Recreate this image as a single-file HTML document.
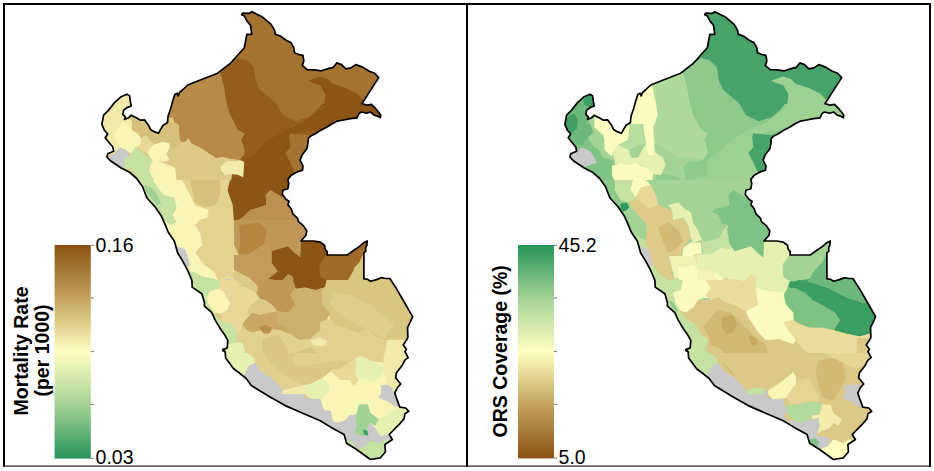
<!DOCTYPE html>
<html><head><meta charset="utf-8"><title>Peru maps</title>
<style>
html,body{margin:0;padding:0;background:#fff;}
body{width:934px;height:471px;overflow:hidden;position:relative;font-family:"Liberation Sans",sans-serif;}
svg{position:absolute;left:0;top:0;display:block;}
text{font-family:"Liberation Sans",sans-serif;fill:#000;}
.lab{font-size:19.5px;}
.ttl{font-size:19.5px;font-weight:bold;text-anchor:middle;}
</style></head><body>
<svg width="934" height="471" viewBox="0 0 934 471">
<defs>
<clipPath id="peru"><polygon points="241.7,14.7 242.6,13.1 249.3,13.4 251.8,11.7 256.8,14.2 261.9,16.7 266.1,20.1 271.1,24.3 274.5,30.2 275.3,34.4 280.3,36 286.2,40.2 291.2,42.8 293.8,47.8 294.6,52.8 298.8,54.5 303,55.3 303.8,61.2 302.3,65.4 307.2,69.6 313.9,69.8 321.4,70.8 329,68.4 333.2,67.4 336.7,62.9 341.6,64.6 345.8,68.8 350.8,67.9 355.8,64.6 362.6,67.1 369.3,71.3 374.3,73 378.7,77.6 362,103.6 367.3,105.2 371.5,104.4 374.9,107.8 379.1,112.8 380.7,115.3 380.4,117.8 377.4,116.1 374,115 370.7,112 366.5,113.3 361.4,112 358.9,113.6 357.2,117.8 350.5,118.7 343.8,120 337.1,121.2 332.1,123.7 327,127 320.3,130.4 315.3,133.8 310.3,136.3 308.3,138.8 307.8,143.8 307,148.5 302.1,155.1 300.1,160.1 303,166 302.5,170.2 297.1,171.9 291.2,175.2 287.9,179.4 288.7,183.6 287.9,188.7 282.9,190.3 282.3,194.5 286.2,199.6 289.1,201.2 287.9,204.6 291.2,208.8 292.9,213.8 297.6,218.4 298.5,221.7 303.5,225.9 306.8,231 306,235.2 301,241 313.6,241 320.3,242.2 324.5,245.2 325.3,249.4 327.3,251.9 327,255 347.1,255 350.5,252.8 353.8,250.3 358.9,246.9 363.9,242.7 367.2,241 366.9,245.2 365.6,247.8 365.9,251.1 363.9,252.8 363.9,278.8 367.2,279.1 370.6,281.3 376.5,279.6 381.5,277.6 385.7,278.5 389.9,278.5 396.6,288.9 403,300 412.6,316.7 410,322.5 407.5,327.6 407.9,337.3 406.5,340 403.2,345 406.5,349.2 404.9,351.7 408.2,357.6 404.9,360.1 402.3,365.2 396.5,372.7 395.6,377.8 400.7,384 397.3,387.8 394.8,392.9 397.3,400.4 399.8,407.1 405.7,408 408.7,411.3 404.9,413.8 404,418.9 399.2,424.4 389.2,434.5 392.4,439.5 384.9,444.5 385.4,452 380.4,457.8 370.4,459.5 356.6,449.5 346.6,443.2 344.1,434.5 330.3,426.9 320.3,420.7 302.7,413.2 285.2,405.6 270.1,396.9 251.3,385.6 246.2,378.5 240.3,373.8 233.6,368.8 229.4,362.9 225.6,357.9 225.2,352 222.7,350 227.2,347.8 227.8,340.3 224.4,334.4 220.2,328.5 215.2,320.1 211.8,312.6 204.3,305.9 204.5,303 201.9,293.8 192.2,287.1 191.9,280.4 187.7,270.3 182.7,261.1 177.6,252.7 174.3,240.9 168.4,232.6 165.2,224.6 161,215.4 155.2,207 146.8,197.8 142.6,186.8 136.7,178.5 130,172.6 121.2,168 111.1,161.3 106.9,157.1 107.7,153.8 113.6,151.2 112.8,147 108.6,142 105.2,137.8 107.7,134 104.4,130.3 101.9,124.4 103.6,115.2 108.6,110.1 114.5,102.6 121.2,96.7 127,94.2 129.6,95.9 130.4,101.7 131.2,105.9 127,107.6 123.7,110.1 122.8,114.3 125.4,116.8 124.5,119.4 128.7,117.7 131.2,115.2 136.3,117.7 140.5,120.2 144.7,119.9 148,124.4 150.5,129.4 154.7,131.9 158.4,133.3 160.6,129.4 163.1,125.2 167.3,122.7 168.1,116 170.7,108.5 172.3,102.6 174.9,94.2 177.4,93.4 178.2,95.9 179.6,92.5 182.4,90 187.7,85 200.3,80 217.6,73.2 230,63.7 244.3,47.8 246.8,34.4 251.8,34.4 250.5,25.1 246.8,20.9 244.3,15.9"/></clipPath>
<linearGradient id="gL" x1="0" y1="0" x2="0" y2="1">
<stop offset="0" stop-color="#8a5212"/><stop offset="0.25" stop-color="#c3a35e"/><stop offset="0.5" stop-color="#ffffc0"/><stop offset="0.5" stop-color="#ffffc0"/><stop offset="0.75" stop-color="#a4d295"/><stop offset="1" stop-color="#26935a"/>
</linearGradient>
<linearGradient id="gR" x1="0" y1="1" x2="0" y2="0">
<stop offset="0" stop-color="#8a5212"/><stop offset="0.25" stop-color="#c3a35e"/><stop offset="0.5" stop-color="#ffffc0"/><stop offset="0.75" stop-color="#a4d295"/><stop offset="1" stop-color="#26935a"/>
</linearGradient>
</defs>
<rect x="0" y="0" width="934" height="471" fill="#fff"/>
<!-- frame -->
<rect x="3" y="3" width="928" height="2" fill="#000"/>
<rect x="3" y="3" width="2" height="464" fill="#000"/>
<rect x="466" y="3" width="2" height="464" fill="#000"/>
<rect x="929" y="3" width="2" height="464" fill="#000"/>
<rect x="3" y="465.5" width="928" height="1.2" fill="#222"/>

<!-- LEFT MAP -->
<g clip-path="url(#peru)">
<polygon fill="#ddca88" points="90,0 430,0 430,471 90,471"/>
<polygon fill="#a57331" points="200,0 430,0 430,140 330,140 300,128 283,119 275,106 258,93 250,80 215,76 200,82"/>
<polygon fill="#945d1c" points="222,78 250,80 258,93 275,106 283,119 295,125 295,200 222,200"/>
<polygon fill="#b78a4a" points="160.0,75.2 220.1,72.7 223.9,85.2 226.4,100.2 230.1,117.8 160.0,117.8"/>
<polygon fill="#945d1c" points="220.1,72.7 237.7,58.1 246.4,60.1 254.0,67.6 255.2,75.2 256.5,87.7 265.2,95.2 275.2,105.2 280.3,117.8 230.1,117.8 226.4,100.2 223.9,85.2"/>
<polygon fill="#8d5515" points="307.8,80.7 320.3,76.4 327.9,78.9 332.9,83.9 345.4,87.7 357.9,94.0 364.2,101.5 370.4,104.0 380.5,117.8 315.3,117.8 320.3,110.2 324.1,105.2 325.4,94.0 320.3,85.2 312.8,82.7"/>
<polygon fill="#8d5515" points="322,104 365,99 385,120 340,126 318,142 298,129 310,119"/>
<polygon fill="#945d1c" points="224.0,80.0 255.4,80.0 260.4,90.0 275.4,102.5 282.9,115.1 295.4,121.3 308.0,117.6 324.0,105.1 324.0,198.0 229.0,197.8 227.8,190.2 231.6,185.2 232.8,177.7 244.1,176.5 244.1,160.2 240.3,155.2 244.1,153.9 241.6,145.1 245.3,133.9 237.8,127.6 230.3,112.6 226.5,95.0"/>
<polygon fill="#8d5515" points="324.0,107.6 324.0,130.1 305.5,131.4 289.2,136.4 290.4,147.6 285.4,152.7 290.4,162.7 295.4,174.0 287.9,182.7 287.9,190.2 282.9,195.2 282.9,198.0 230.3,198.0 227.8,190.2 231.6,185.2 232.8,177.7 244.1,176.5 244.1,160.2 252.8,155.2 265.4,142.6 285.4,130.1 303.0,122.6"/>
<polygon fill="#a57331" points="289.2,136.4 290.4,133.6 308.5,134.9 324.0,135.6 324.0,180.2 295.4,174.0 290.4,162.7 285.4,152.7 290.4,147.6"/>
<polygon fill="#b78a4a" points="270.4,190.2 282.9,187.7 284.2,198.0 269.1,198.0"/>
<polygon fill="#b78a4a" points="169.5,123.4 167.8,115.1 170.3,106.7 174.5,93.3 179.5,90.0 222.9,90.0 225.4,100.0 229.6,113.4 234.6,123.4 238.0,130.1 244.7,133.4 241.3,140.1 243.8,146.8 244.7,153.5 239.6,160.1 229.6,158.5 222.9,156.8 216.3,158.5 212.9,156.0 206.2,151.8 199.6,147.6 191.2,143.4 188.7,138.4 184.5,142.6 181.2,141.8 179.5,140.1 178.7,125.1 174.5,122.6 162.8,90.0 146.1,90.0 146.1,123.4"/>
<polygon fill="#ddca88" points="181.2,141.8 184.5,142.6 188.7,138.4 191.2,143.4 199.6,147.6 206.2,151.8 212.9,156.0 216.3,158.5 222.9,156.8 229.6,158.5 239.6,160.1 233.0,161.8 231.3,168.5 166.1,168.5 169.5,160.1 166.1,153.5 169.5,148.5 172.8,149.3 176.2,146.8"/>
<polygon fill="#f2eaa9" points="96.0,90.0 127.7,90.0 136.1,105.9 123.6,108.4 122.7,115.1 126.1,119.2 129.4,116.7 131.9,121.7 131.9,130.1 137.8,133.4 141.1,138.4 140.3,145.1 135.3,148.5 131.9,153.5 121.1,148.5 114.4,153.5 96.0,156.8"/>
<polygon fill="#f9f5b5" points="123.6,121.7 131.9,130.1 140.3,135.1 141.1,141.8 135.3,148.5 131.9,153.5 121.1,148.5 116.0,140.1 114.4,133.4"/>
<polygon fill="#d7bf7c" points="129.4,116.7 139.4,115.1 151.1,120.1 162.0,131.8 162.0,125.1 166.1,123.4 169.5,123.4 174.5,122.6 178.7,125.1 179.5,140.1 181.2,141.8 176.2,146.8 172.8,149.3 169.5,143.4 162.8,141.8 154.5,144.3 149.4,140.1 146.1,135.1 141.1,138.4 137.8,133.4 131.9,130.1 131.9,121.7"/>
<polygon fill="#e8d998" points="141.1,138.4 146.1,135.1 149.4,140.1 154.5,144.3 149.4,148.5 147.8,153.5 142.8,151.8 137.8,146.8 140.3,145.1"/>
<polygon fill="#f9f5b5" points="154.5,144.3 162.8,141.8 169.5,143.4 169.5,148.5 166.1,153.5 169.5,160.1 162.8,161.8 152.8,161.0 147.8,153.5 149.4,148.5"/>
<polygon fill="#c9c9c9" points="106.0,158.5 113.5,154.3 119.4,147.6 125.2,149.3 129.4,153.5 128.6,156.8 125.2,157.6 124.4,163.5 123.6,168.7 112.7,168.7"/>
<polygon fill="#c6e2a3" points="125.2,157.6 128.6,156.8 131.9,153.5 135.3,146.8 137.8,151.0 142.8,153.5 149.4,156.8 152.0,160.1 147.8,163.5 144.4,168.5 124.4,168.5 124.4,163.5"/>
<polygon fill="#f2eaa9" points="233.0,161.8 239.6,160.1 243.8,161.8 243.8,168.5 232.1,168.5"/>
<polygon fill="#ddca88" points="218.3,172.2 232.3,173.7 230.8,182.2 219.8,180.7"/>
<polygon fill="#f2eaa9" points="220.3,166.4 226.5,161.4 240.3,160.7 244.1,162.7 243.3,177.2 237.8,174.7 230.3,174.0 225.3,175.2 221.5,171.4"/>
<polygon fill="#c6e2a3" points="131.3,152.7 137.6,147.6 143.9,155.2 152.6,160.2 148.9,170.2 153.9,180.2 157.6,187.7 155.1,198.0 148.9,198.0 143.9,190.2 138.9,181.5 130.1,166.4 131.3,157.7"/>
<polygon fill="#9fd293" points="141.4,179.0 148.9,181.5 153.9,190.2 155.6,198.0 145.1,198.0"/>
<polygon fill="#f9f5b5" points="152.6,160.2 162.7,162.7 175.2,167.7 176.4,180.2 187.7,190.2 190.2,198.0 155.1,198.0 157.6,187.7 153.9,180.2 148.9,170.2"/>
<polygon fill="#f9f5b5" points="152.6,180.0 182.6,180.0 187.6,190.0 195.2,205.1 208.9,210.1 207.7,217.6 200.2,220.1 195.2,225.1 200.2,232.6 202.7,245.1 195.2,252.7 202.7,262.7 215.2,272.7 217.7,280.2 207.7,282.7 192.7,280.2 186.4,272.7 178.9,255.2 173.9,241.4 168.9,233.9 176.4,222.6 172.6,215.1 176.4,207.6 173.9,197.5 163.8,195.0 157.6,187.5"/>
<polygon fill="#f9f5b5" points="157.6,215.1 177.6,220.1 178.9,237.6 167.6,236.4"/>
<polygon fill="#c6e2a3" points="130.0,180.0 152.6,180.0 157.6,187.5 163.8,195.0 173.9,197.5 176.4,207.6 172.6,215.1 176.4,222.6 170.1,225.1 161.3,217.6 152.6,203.8 145.1,192.5"/>
<polygon fill="#9fd293" points="143.8,185.0 151.3,187.5 157.6,195.0 161.3,203.8 157.6,205.1 151.3,198.8 146.3,191.3"/>
<polygon fill="#e3d290" points="182.6,180.0 230.2,180.0 227.7,190.0 232.7,205.1 235.2,222.6 239.0,240.1 240.3,252.7 234.0,265.2 242.8,275.2 240.3,280.2 227.7,275.2 217.7,280.2 215.2,272.7 202.7,262.7 195.2,252.7 202.7,245.1 200.2,232.6 195.2,225.1 200.2,220.1 207.7,217.6 208.9,210.1 195.2,205.1 187.6,190.0"/>
<polygon fill="#d7bf7c" points="190.1,180.0 220.2,180.0 220.2,195.0 215.2,205.1 205.2,207.6 195.2,202.5"/>
<polygon fill="#8d5515" points="227.7,190.0 230.2,180.0 286.6,180.0 287.9,188.8 282.3,191.3 282.8,197.5 270.3,190.0 265.3,195.0 266.6,205.1 259.0,207.6 250.3,210.1 242.8,217.6 234.0,222.6 232.7,205.1"/>
<polygon fill="#bb9050" points="234.0,222.6 242.8,217.6 250.3,210.1 259.0,207.6 266.6,205.1 265.3,195.0 270.3,190.0 282.8,197.5 295.4,202.5 310.4,215.1 310.4,233.9 300.9,240.6 301.6,252.7 295.4,250.1 290.4,246.4 280.3,248.9 272.8,252.7 270.3,247.6 265.3,242.6 256.5,250.1 245.3,255.2 240.3,252.7 239.0,240.1 235.2,222.6"/>
<polygon fill="#b2823d" points="240.3,237.6 252.8,232.6 259.0,223.8 267.8,222.6 265.3,242.6 256.5,250.1 245.3,255.2 240.3,252.7"/>
<polygon fill="#c49e5c" points="240.3,252.7 245.3,255.2 256.5,250.1 265.3,242.6 270.3,247.6 272.8,252.7 271.6,262.7 276.6,270.2 267.8,275.2 256.5,272.7 250.3,277.7 242.8,275.2 234.0,265.2"/>
<polygon fill="#8d5515" points="272.8,252.7 280.3,248.9 290.4,246.4 295.4,250.1 301.6,252.7 300.9,238.9 320.4,238.9 325.9,246.4 327.9,254.7 320.4,262.7 319.2,272.7 325.4,280.2 320.4,287.7 312.9,290.2 305.4,285.2 295.4,287.7 292.9,277.7 285.4,275.2 282.8,282.7 275.3,280.2 267.8,275.2 276.6,270.2 271.6,262.7"/>
<polygon fill="#a06a28" points="327.9,252.7 346.7,252.7 354.0,247.6 354.0,280.2 345.5,280.2 335.5,280.2 325.4,280.2 319.2,272.7 320.4,262.7"/>
<polygon fill="#d9c681" points="325.4,280.2 335.5,280.2 354.0,280.2 354.0,298.0 320.4,298.0 320.4,287.7"/>
<polygon fill="#c49e5c" points="267.8,275.2 275.3,280.2 282.8,282.7 285.4,275.2 292.9,277.7 295.4,287.7 305.4,285.2 312.9,290.2 320.4,287.7 320.4,298.0 257.8,298.0 256.5,285.2 260.3,280.2"/>
<polygon fill="#e8d998" points="217.7,280.2 227.7,275.2 240.3,280.2 242.8,275.2 250.3,277.7 256.5,272.7 267.8,275.2 260.3,280.2 256.5,285.2 257.8,298.0 203.9,298.0 200.2,291.5 207.7,282.7"/>
<polygon fill="#c9c9c9" points="176.4,246.4 185.1,248.9 188.9,260.2 190.1,266.4 186.4,266.4 180.1,257.7"/>
<polygon fill="#c9c9c9" points="225.2,279.0 230.2,279.0 230.2,282.7 225.2,282.7"/>
<polygon fill="#c6e2a3" points="185.1,268.9 195.2,272.7 202.7,276.5 215.2,279.0 219.0,285.2 212.7,290.2 205.2,292.7 200.2,298.0 190.1,298.0"/>
<polygon fill="#d9c681" points="326.7,280.1 348.0,280.1 363.8,252.6 363.8,278.9 370.5,276.4 381.8,275.6 394.3,276.4 414.4,316.5 409.4,325.2 409.4,337.8 334.2,337.8 329.2,320.2 321.7,302.7 320.4,292.7 326.7,285.1"/>
<polygon fill="#a06a28" points="319.2,265.1 326.7,252.6 348.0,252.6 356.8,247.6 369.3,238.8 369.3,250.1 363.8,252.6 359.3,262.6 351.8,270.1 346.7,278.9 339.2,280.1 326.7,280.1 320.4,277.6"/>
<polygon fill="#8d5515" points="271.6,251.3 279.1,248.8 287.9,246.3 294.1,252.6 300.4,257.6 299.6,240.0 320.4,240.5 325.4,248.8 326.7,255.1 319.2,265.1 320.4,277.6 326.7,280.1 324.2,287.6 314.2,290.1 306.7,286.4 295.4,288.9 292.9,276.4 287.9,273.9 281.6,281.4 275.3,280.1 267.8,278.9 277.8,271.4 271.6,262.6"/>
<polygon fill="#bf9757" points="234.0,220.0 297.9,220.0 309.2,230.0 301.1,241.3 300.4,257.6 294.1,252.6 287.9,246.3 279.1,248.8 271.6,251.3 266.6,243.8 259.1,247.6 249.0,253.8 239.0,255.1 234.0,245.1"/>
<polygon fill="#b5853f" points="239.0,225.0 259.1,222.5 266.6,230.0 264.1,243.8 259.1,247.6 249.0,253.8 239.0,255.1 240.3,240.0"/>
<polygon fill="#c29b5a" points="234.0,255.1 239.0,255.1 249.0,253.8 259.1,247.6 266.6,243.8 271.6,251.3 271.6,262.6 277.8,271.4 267.8,278.9 257.8,286.4 249.0,277.6 241.5,273.9 234.0,270.1"/>
<polygon fill="#ddca88" points="234.0,270.1 241.5,273.9 249.0,277.6 257.8,286.4 259.1,292.7 266.6,295.2 271.6,303.9 277.8,310.2 287.9,314.0 299.1,327.7 309.2,330.2 316.7,335.2 316.7,337.8 234.0,337.8"/>
<polygon fill="#f2eaa9" points="234.0,285.1 246.5,287.6 256.5,295.2 254.0,302.7 244.0,305.2 234.0,305.2"/>
<polygon fill="#e8d998" points="234.0,305.2 244.0,305.2 249.0,315.2 241.5,325.2 234.0,327.7"/>
<polygon fill="#cbaa68" points="246.5,320.2 259.1,315.2 271.6,320.2 279.1,330.2 269.1,335.2 256.5,330.2 249.0,327.7"/>
<polygon fill="#bd9654" points="257.8,286.4 267.8,278.9 275.3,280.1 281.6,281.4 287.9,273.9 292.9,276.4 295.4,288.9 291.6,295.2 295.4,306.4 287.9,314.0 277.8,310.2 271.6,303.9 266.6,295.2 259.1,292.7"/>
<polygon fill="#cbaa68" points="295.4,288.9 306.7,286.4 314.2,290.1 324.2,287.6 320.4,292.7 321.7,302.7 329.2,312.7 326.7,320.2 319.2,325.2 324.2,331.5 316.7,335.2 309.2,330.2 299.1,327.7 287.9,314.0 295.4,306.4 291.6,295.2"/>
<polygon fill="#f2eaa9" points="321.7,320.2 329.2,315.2 334.2,337.8 316.7,337.8 324.2,331.5 319.2,325.2"/>
<polygon fill="#e8d998" points="220.1,280.0 235.2,280.0 242.7,287.5 250.2,288.8 256.5,293.8 260.2,298.8 252.7,302.5 246.4,312.6 242.7,320.1 241.4,330.1 237.7,333.9 232.7,325.1 221.4,321.3 221.4,313.8 227.6,310.1 230.1,302.5 223.9,292.5 218.9,288.8"/>
<polygon fill="#c6e2a3" points="185.1,280.0 220.1,280.0 218.9,288.8 210.1,291.3 206.3,297.5 208.9,305.1 213.9,312.6 221.4,321.3 232.7,325.1 237.7,333.9 236.4,342.6 228.9,343.9 226.4,338.9 220.1,327.6 212.6,315.1 205.1,305.1 201.3,293.8 192.6,287.0"/>
<polygon fill="#f9f5b5" points="210.1,291.3 218.9,288.8 223.9,292.5 230.1,302.5 227.6,310.1 221.4,313.8 213.9,312.6 208.9,305.1 206.3,297.5"/>
<polygon fill="#bf9856" points="257.7,287.5 265.2,280.0 292.8,280.0 295.3,287.5 290.3,295.0 295.3,305.1 287.8,312.6 277.8,311.3 272.7,305.1 265.2,300.0 260.2,298.8 256.5,293.8"/>
<polygon fill="#8d5515" points="270.2,280.0 326.6,280.0 325.4,286.3 315.3,290.0 305.3,287.5 296.5,288.8 292.8,280.0"/>
<polygon fill="#ceb06e" points="295.3,287.5 296.5,288.8 305.3,287.5 315.3,290.0 321.6,295.0 322.8,305.1 330.4,312.6 326.6,320.1 320.3,322.6 320.3,330.1 310.3,338.9 299.0,340.1 290.3,333.9 285.3,326.3 277.8,322.6 277.8,311.3 287.8,312.6 295.3,305.1 290.3,295.0"/>
<polygon fill="#d9c681" points="321.6,295.0 325.4,286.3 326.6,280.0 394.0,280.0 394.0,337.6 385.5,340.1 375.5,336.4 367.9,330.1 357.9,332.6 345.4,327.6 335.4,325.1 330.4,318.8 330.4,312.6 322.8,305.1"/>
<polygon fill="#e1d08e" points="237.7,333.9 241.4,330.1 246.4,330.1 252.7,332.6 260.2,330.1 267.7,333.9 272.7,328.9 280.3,330.1 290.3,333.9 299.0,340.1 310.3,338.9 320.3,330.1 320.3,322.6 326.6,320.1 330.4,318.8 335.4,325.1 345.4,327.6 357.9,332.6 367.9,330.1 375.5,336.4 385.5,340.1 394.0,337.6 394.0,362.7 380.5,362.7 367.9,357.7 357.9,352.7 347.9,357.7 342.9,367.7 332.9,370.2 325.4,372.7 315.3,377.7 300.3,380.2 290.3,385.2 282.8,387.7 272.7,380.2 260.2,370.2 255.2,362.7 252.7,355.2 245.2,352.7 242.7,342.6 236.4,342.6"/>
<polygon fill="#c9a866" points="245.2,320.1 252.7,312.6 260.2,315.1 270.2,312.6 277.8,311.3 277.8,322.6 285.3,326.3 290.3,333.9 280.3,330.1 272.7,328.9 267.7,333.9 260.2,330.1 252.7,332.6 246.4,330.1 242.7,325.1"/>
<polygon fill="#b98e4c" points="259.0,327.6 265.2,325.1 271.5,327.6 270.2,332.6 264.0,333.9"/>
<polygon fill="#d9c483" points="262.7,338.9 277.8,335.1 285.3,345.1 290.3,357.7 280.3,360.2 270.2,355.2 262.7,352.7"/>
<polygon fill="#d9c483" points="295.3,352.7 310.3,347.6 320.3,355.2 317.8,367.7 305.3,370.2 296.5,365.2"/>
<polygon fill="#f2eaa9" points="310.3,340.1 320.3,337.6 327.9,341.4 322.8,346.4 312.8,345.1"/>
<polygon fill="#e6f1b1" points="228.9,343.9 236.4,342.6 242.7,342.6 245.2,352.7 252.7,355.2 255.2,362.7 247.7,366.4 252.7,372.7 247.7,375.2 245.2,379.0 233.9,368.9 227.6,360.2 222.6,353.9 223.9,347.6"/>
<polygon fill="#f9f5b5" points="342.9,367.7 347.9,357.7 357.9,352.7 367.9,357.7 380.5,362.7 394.0,362.7 394.0,398.0 340.4,398.0 335.4,380.2 332.9,370.2"/>
<polygon fill="#e6f1b1" points="315.3,377.7 325.4,372.7 332.9,370.2 335.4,380.2 332.9,390.2 320.3,395.2 310.3,394.0 305.3,392.7 300.3,387.7 300.3,380.2"/>
<polygon fill="#f9f5b5" points="282.8,387.7 290.3,385.2 300.3,380.2 300.3,387.7 290.3,390.2"/>
<polygon fill="#c9c9c9" points="247.7,366.4 255.2,362.7 260.2,370.2 272.7,380.2 282.8,387.7 290.3,390.2 300.3,387.7 305.3,392.7 302.8,397.8 272.7,398.0 252.7,390.2 242.7,380.2 247.7,375.2 252.7,372.7"/>
<polygon fill="#c9c9c9" points="307.8,390.2 315.3,387.7 320.3,391.5 315.3,395.2"/>
<polygon fill="#c9c9c9" points="381.7,385.2 394.0,384.0 394.0,395.2 383.0,396.5"/>
<polygon fill="#e1d08e" points="247.6,353.0 395.4,353.0 385.4,363.0 375.3,361.8 356.5,358.0 355.3,368.0 345.3,369.3 330.2,371.8 322.7,378.1 312.7,383.1 302.7,385.6 292.7,388.1 282.6,390.6 276.4,383.1 270.1,373.0 260.1,363.0"/>
<polygon fill="#dcc886" points="262.6,353.0 295.2,353.0 292.7,363.0 302.7,365.5 320.2,363.0 337.8,360.5 350.3,363.0 345.3,369.3 330.2,371.8 322.7,378.1 312.7,383.1 302.7,385.6 290.1,378.1 275.1,368.0"/>
<polygon fill="#e6f1b1" points="220.0,353.0 247.6,353.0 252.6,360.5 247.6,368.0 246.3,373.0 235.0,375.5 225.0,365.5"/>
<polygon fill="#c9c9c9" points="327.7,416.9 360.3,403.1 380.3,415.6 395.4,435.7 375.3,463.2 340.3,438.2"/>
<polygon fill="#f9f5b5" points="322.7,378.1 330.2,371.8 345.3,369.3 355.3,368.0 356.5,358.0 375.3,361.8 385.4,363.0 395.4,353.0 415.4,353.0 415.4,385.6 385.4,385.6 380.3,395.6 390.4,403.1 395.4,406.9 399.9,406.9 404.1,414.4 399.1,424.4 389.1,434.4 380.3,435.7 375.3,428.2 370.3,423.1 379.1,419.4 370.3,413.1 367.8,404.4 359.0,404.4 356.5,414.4 349.0,415.6 345.3,420.6 337.8,423.1 330.2,420.6 322.7,413.1 325.2,411.9 322.7,406.9 320.2,399.3 324.0,395.6 330.2,390.6 327.7,383.1"/>
<polygon fill="#e6f1b1" points="305.2,388.1 312.7,383.1 322.7,378.1 327.7,383.1 330.2,390.6 324.0,395.6 320.2,399.3 310.2,399.3 305.2,394.3"/>
<polygon fill="#e6f1b1" points="356.5,358.0 375.3,361.8 385.4,368.0 380.3,378.1 370.3,380.6 360.3,378.1 355.3,368.0"/>
<polygon fill="#f2eaa9" points="282.6,390.6 292.7,388.1 302.7,385.6 305.2,388.1 305.2,394.3 295.2,394.3 281.4,394.3"/>
<polygon fill="#c9c9c9" points="243.8,375.5 247.6,368.0 252.6,365.5 260.1,371.8 270.1,376.8 276.4,383.1 282.6,390.6 281.4,394.3 295.2,394.3 305.2,398.1 320.2,399.3 322.7,406.9 325.2,411.9 320.2,415.6 330.2,426.9 344.0,434.4 350.3,428.2 355.3,418.1 352.8,415.6 345.3,420.6 337.8,423.1 330.2,420.6 320.2,420.6 302.7,418.1 285.1,410.6 270.1,401.9 251.3,390.6 243.8,380.6"/>
<polygon fill="#9fd293" points="359.0,404.4 367.8,404.4 370.3,413.1 379.1,419.4 375.3,425.7 370.3,423.1 366.6,428.2 369.1,435.7 360.3,435.7 354.0,433.2 356.5,425.7 355.3,418.1 356.5,414.4"/>
<polygon fill="#3fa265" points="362.8,429.4 367.3,430.7 368.3,435.7 364.1,434.4"/>
<polygon fill="#c9c9c9" points="380.3,385.6 395.4,384.3 400.4,393.1 405.4,406.9 395.4,406.9 390.4,403.1 385.4,400.6 379.1,398.1 382.8,393.1"/>
<polygon fill="#c9c9c9" points="330.2,420.6 337.8,423.1 345.3,420.6 349.0,415.6 356.5,414.4 355.3,418.1 356.5,425.7 354.0,433.2 360.3,435.7 369.1,435.7 375.3,428.2 380.3,435.7 385.4,439.4 380.3,443.2 370.3,440.7 365.3,445.7 356.5,449.5 346.5,443.2 340.3,435.7"/>
<polygon fill="#c6e2a3" points="346.5,439.4 352.8,441.9 356.5,449.5 365.3,445.7 370.3,440.7 380.3,443.2 385.4,439.4 395.4,439.4 395.4,463.2 340.3,463.2 340.3,440.7"/>
<polygon fill="#e6f1b1" points="379.1,419.4 385.4,415.6 392.9,410.6 399.9,406.9 410.4,406.9 410.4,428.2 399.1,428.2 389.1,434.4 380.3,435.7 375.3,428.2 375.3,425.7"/>
<polygon fill="#f2eaa9" points="386.0,348.4 386.9,340.0 416.9,340.0 416.9,406.8 400.2,406.8 393.5,391.8 386.9,383.4 383.5,368.4 383.5,356.7"/>
<polygon fill="#c9c9c9" points="381.0,388.4 385.2,384.3 391.0,386.8 393.5,391.8 396.0,400.1 400.2,406.8 393.5,406.0 390.2,400.1 383.5,400.1 378.5,396.8 381.0,393.4"/>
<polygon fill="#e6f1b1" points="355.1,358.4 361.8,355.9 370.1,360.0 378.5,365.1 382.7,368.4 380.2,376.7 373.5,381.8 366.8,377.6 358.5,380.1 355.1,373.4 356.0,365.1"/>
<polygon fill="#e8d998" points="333.4,373.4 330.1,370.1 340.1,368.4 355.1,358.4 356.0,365.1 355.1,373.4 358.5,380.1 353.4,386.8 350.1,380.1 340.1,380.1"/>
<polygon fill="#dfce8b" points="334.2,292.7 351.8,295.2 374.3,307.7 394.3,325.2 384.3,338.0 364.3,327.7 344.2,317.7 329.2,305.2"/>
<polygon fill="#c9c9c9" points="317,409 331,411 333,423 319,421"/>
</g>
<polygon points="241.7,14.7 242.6,13.1 249.3,13.4 251.8,11.7 256.8,14.2 261.9,16.7 266.1,20.1 271.1,24.3 274.5,30.2 275.3,34.4 280.3,36 286.2,40.2 291.2,42.8 293.8,47.8 294.6,52.8 298.8,54.5 303,55.3 303.8,61.2 302.3,65.4 307.2,69.6 313.9,69.8 321.4,70.8 329,68.4 333.2,67.4 336.7,62.9 341.6,64.6 345.8,68.8 350.8,67.9 355.8,64.6 362.6,67.1 369.3,71.3 374.3,73 378.7,77.6 362,103.6 367.3,105.2 371.5,104.4 374.9,107.8 379.1,112.8 380.7,115.3 380.4,117.8 377.4,116.1 374,115 370.7,112 366.5,113.3 361.4,112 358.9,113.6 357.2,117.8 350.5,118.7 343.8,120 337.1,121.2 332.1,123.7 327,127 320.3,130.4 315.3,133.8 310.3,136.3 308.3,138.8 307.8,143.8 307,148.5 302.1,155.1 300.1,160.1 303,166 302.5,170.2 297.1,171.9 291.2,175.2 287.9,179.4 288.7,183.6 287.9,188.7 282.9,190.3 282.3,194.5 286.2,199.6 289.1,201.2 287.9,204.6 291.2,208.8 292.9,213.8 297.6,218.4 298.5,221.7 303.5,225.9 306.8,231 306,235.2 301,241 313.6,241 320.3,242.2 324.5,245.2 325.3,249.4 327.3,251.9 327,255 347.1,255 350.5,252.8 353.8,250.3 358.9,246.9 363.9,242.7 367.2,241 366.9,245.2 365.6,247.8 365.9,251.1 363.9,252.8 363.9,278.8 367.2,279.1 370.6,281.3 376.5,279.6 381.5,277.6 385.7,278.5 389.9,278.5 396.6,288.9 403,300 412.6,316.7 410,322.5 407.5,327.6 407.9,337.3 406.5,340 403.2,345 406.5,349.2 404.9,351.7 408.2,357.6 404.9,360.1 402.3,365.2 396.5,372.7 395.6,377.8 400.7,384 397.3,387.8 394.8,392.9 397.3,400.4 399.8,407.1 405.7,408 408.7,411.3 404.9,413.8 404,418.9 399.2,424.4 389.2,434.5 392.4,439.5 384.9,444.5 385.4,452 380.4,457.8 370.4,459.5 356.6,449.5 346.6,443.2 344.1,434.5 330.3,426.9 320.3,420.7 302.7,413.2 285.2,405.6 270.1,396.9 251.3,385.6 246.2,378.5 240.3,373.8 233.6,368.8 229.4,362.9 225.6,357.9 225.2,352 222.7,350 227.2,347.8 227.8,340.3 224.4,334.4 220.2,328.5 215.2,320.1 211.8,312.6 204.3,305.9 204.5,303 201.9,293.8 192.2,287.1 191.9,280.4 187.7,270.3 182.7,261.1 177.6,252.7 174.3,240.9 168.4,232.6 165.2,224.6 161,215.4 155.2,207 146.8,197.8 142.6,186.8 136.7,178.5 130,172.6 121.2,168 111.1,161.3 106.9,157.1 107.7,153.8 113.6,151.2 112.8,147 108.6,142 105.2,137.8 107.7,134 104.4,130.3 101.9,124.4 103.6,115.2 108.6,110.1 114.5,102.6 121.2,96.7 127,94.2 129.6,95.9 130.4,101.7 131.2,105.9 127,107.6 123.7,110.1 122.8,114.3 125.4,116.8 124.5,119.4 128.7,117.7 131.2,115.2 136.3,117.7 140.5,120.2 144.7,119.9 148,124.4 150.5,129.4 154.7,131.9 158.4,133.3 160.6,129.4 163.1,125.2 167.3,122.7 168.1,116 170.7,108.5 172.3,102.6 174.9,94.2 177.4,93.4 178.2,95.9 179.6,92.5 182.4,90 187.7,85 200.3,80 217.6,73.2 230,63.7 244.3,47.8 246.8,34.4 251.8,34.4 250.5,25.1 246.8,20.9 244.3,15.9" fill="none" stroke="#000" stroke-width="1.7" stroke-linejoin="round"/><circle cx="223.6" cy="350" r="1.7" fill="#000"/>

<!-- RIGHT MAP -->
<g transform="translate(463,0)">
<g clip-path="url(#peru)">
<polygon fill="#a3d496" points="90,0 430,0 430,471 90,471"/>
<polygon fill="#48a36b" points="200,0 430,0 430,140 330,140 300,128 283,119 275,106 258,93 250,80 215,76 200,82"/>
<polygon fill="#dcc988" points="150,300 430,300 430,471 150,471"/>
<polygon fill="#8fca8c" points="222,78 250,80 258,93 275,106 283,119 295,125 295,200 222,200"/>
<polygon fill="#afda9c" points="160.0,75.2 220.1,72.7 223.9,85.2 226.4,100.2 230.1,117.8 160.0,117.8"/>
<polygon fill="#8fca8c" points="220.1,72.7 237.7,58.1 246.4,60.1 254.0,67.6 255.2,75.2 256.5,87.7 265.2,95.2 275.2,105.2 280.3,117.8 230.1,117.8 226.4,100.2 223.9,85.2"/>
<polygon fill="#9dd192" points="307.8,80.7 320.3,76.4 327.9,78.9 332.9,83.9 345.4,87.7 357.9,94.0 364.2,101.5 370.4,104.0 380.5,117.8 315.3,117.8 320.3,110.2 324.1,105.2 325.4,94.0 320.3,85.2 312.8,82.7"/>
<polygon fill="#9dd192" points="322,104 365,99 385,120 340,126 318,142 298,129 310,119"/>
<polygon fill="#8fca8c" points="224.0,80.0 255.4,80.0 260.4,90.0 275.4,102.5 282.9,115.1 295.4,121.3 308.0,117.6 324.0,105.1 324.0,198.0 229.0,197.8 227.8,190.2 231.6,185.2 232.8,177.7 244.1,176.5 244.1,160.2 240.3,155.2 244.1,153.9 241.6,145.1 245.3,133.9 237.8,127.6 230.3,112.6 226.5,95.0"/>
<polygon fill="#9dd192" points="324.0,107.6 324.0,130.1 305.5,131.4 289.2,136.4 290.4,147.6 285.4,152.7 290.4,162.7 295.4,174.0 287.9,182.7 287.9,190.2 282.9,195.2 282.9,198.0 230.3,198.0 227.8,190.2 231.6,185.2 232.8,177.7 244.1,176.5 244.1,160.2 252.8,155.2 265.4,142.6 285.4,130.1 303.0,122.6"/>
<polygon fill="#48a36b" points="289.2,136.4 290.4,133.6 308.5,134.9 324.0,135.6 324.0,180.2 295.4,174.0 290.4,162.7 285.4,152.7 290.4,147.6"/>
<polygon fill="#8fca8c" points="270.4,190.2 282.9,187.7 284.2,198.0 269.1,198.0"/>
<polygon fill="#afda9c" points="169.5,123.4 167.8,115.1 170.3,106.7 174.5,93.3 179.5,90.0 222.9,90.0 225.4,100.0 229.6,113.4 234.6,123.4 238.0,130.1 244.7,133.4 241.3,140.1 243.8,146.8 244.7,153.5 239.6,160.1 229.6,158.5 222.9,156.8 216.3,158.5 212.9,156.0 206.2,151.8 199.6,147.6 191.2,143.4 188.7,138.4 184.5,142.6 181.2,141.8 179.5,140.1 178.7,125.1 174.5,122.6 162.8,90.0 146.1,90.0 146.1,123.4"/>
<polygon fill="#a3d496" points="181.2,141.8 184.5,142.6 188.7,138.4 191.2,143.4 199.6,147.6 206.2,151.8 212.9,156.0 216.3,158.5 222.9,156.8 229.6,158.5 239.6,160.1 233.0,161.8 231.3,168.5 166.1,168.5 169.5,160.1 166.1,153.5 169.5,148.5 172.8,149.3 176.2,146.8"/>
<polygon fill="#8fca8c" points="220.3,166.4 226.5,161.4 240.3,160.7 244.1,162.7 243.3,177.2 237.8,174.7 230.3,174.0 225.3,175.2 221.5,171.4"/>
<polygon fill="#8fca8c" points="195.2,172.7 210.3,175.2 220.3,180.2 230.3,180.2 230.3,198.0 190.2,198.0 190.2,185.2"/>
<polygon fill="#7fc384" points="90.0,80.0 132.6,80.0 135.1,106.3 125.1,110.1 123.8,117.6 127.6,125.1 130.1,132.6 125.1,137.6 132.6,145.1 140.1,157.7 150.1,160.2 152.6,167.7 148.9,175.2 153.9,182.7 152.6,190.2 155.1,198.0 115.1,198.0 90.0,155.2"/>
<polygon fill="#6db97c" points="101.3,125.1 105.0,115.1 115.1,103.8 123.8,96.3 132.6,93.8 133.1,106.3 125.1,110.1 123.8,117.6 122.6,123.8 115.1,130.1 108.8,137.6 102.5,132.6"/>
<polygon fill="#419f66" points="100.0,127.6 103.8,117.6 111.3,113.8 115.1,120.1 113.8,128.9 107.5,133.9 102.5,132.6"/>
<polygon fill="#419f66" points="120.1,100.0 127.6,93.8 133.8,93.8 132.6,105.1 126.3,107.6 121.3,105.1"/>
<polygon fill="#6db97c" points="115.1,130.1 122.6,123.8 127.6,125.1 130.1,132.6 125.1,137.6 120.1,145.1 112.5,143.9 106.3,137.6"/>
<polygon fill="#a3d496" points="125.1,137.6 132.6,132.6 140.1,137.6 141.4,145.1 137.6,150.1 131.3,147.6 127.6,142.6"/>
<polygon fill="#c9c9c9" points="105.0,157.7 118.8,147.6 127.6,151.4 131.3,157.7 133.8,162.7 122.6,166.4 112.5,166.4"/>
<polygon fill="#fcfbc0" points="131.3,117.6 140.1,120.1 146.4,117.6 151.4,127.6 157.6,130.1 161.4,126.3 167.7,123.8 166.4,130.1 165.2,140.1 155.1,145.1 150.1,152.7 148.9,156.4 141.4,150.1 141.4,140.1 140.1,135.1 131.3,127.6"/>
<polygon fill="#b9de9f" points="166.4,125.1 172.7,120.1 178.9,122.6 180.2,137.6 185.2,142.6 180.2,147.6 175.2,157.7 167.7,157.7 165.2,150.1 155.1,145.1 165.2,140.1"/>
<polygon fill="#a3d496" points="166.4,150.1 175.2,145.1 182.7,143.9 177.7,155.2 170.2,158.9"/>
<polygon fill="#e6f1b1" points="150.1,152.7 155.1,145.1 165.2,150.1 167.7,157.7 175.2,157.7 180.2,147.6 185.2,142.6 190.2,142.6 192.7,152.7 200.2,157.7 202.7,165.2 197.7,175.2 190.2,174.0 185.2,167.7 177.7,166.4 172.7,162.7 165.2,165.2 157.6,162.7 152.6,165.2"/>
<polygon fill="#fcfbc0" points="148.9,165.2 152.6,165.2 157.6,162.7 165.2,165.2 172.7,162.7 177.7,166.4 185.2,167.7 190.2,174.0 189.0,182.7 182.7,185.2 175.2,190.2 165.2,189.0 153.9,190.2 152.6,182.7 148.9,175.2"/>
<polygon fill="#fcfbc0" points="170.2,105.1 176.4,93.8 189.0,83.8 193.2,105.1 194.7,115.1 190.2,127.6 191.5,142.6 190.2,155.2 185.2,155.2 183.2,142.6 180.7,130.1 180.2,124.1 165.2,124.1 167.2,110.1"/>
<polygon fill="#ebdd9e" points="175.2,190.2 182.7,185.2 189.0,182.7 192.7,190.2 194.0,198.0 172.7,198.0"/>
<polygon fill="#a3d496" points="182.6,180.0 286.6,180.0 287.9,188.8 282.8,197.5 270.3,190.0 265.3,195.0 266.6,205.1 259.0,207.6 252.8,208.8 247.8,212.6 230.2,212.6 220.2,207.6 215.2,202.5 205.2,205.1 195.2,205.1 192.7,195.0 187.6,185.0"/>
<polygon fill="#7fc384" points="266.6,205.1 265.3,195.0 270.3,190.0 282.8,197.5 295.4,202.5 310.4,215.1 310.4,233.9 300.9,240.6 301.6,252.7 304.1,257.7 295.4,250.1 290.4,246.4 280.3,248.9 272.8,252.7 270.3,247.6 267.8,230.1 265.3,225.1 259.0,223.8 255.3,215.1 247.8,212.6 252.8,208.8 259.0,207.6"/>
<polygon fill="#decb8a" points="177.6,187.5 187.6,185.0 192.7,195.0 195.2,205.1 208.9,210.1 210.2,220.1 220.2,217.6 225.2,225.1 227.7,237.6 220.2,247.6 217.7,257.7 215.2,267.7 207.7,272.7 215.2,277.7 205.2,280.2 195.2,272.7 190.1,265.2 185.1,252.7 182.6,240.1 183.9,225.1 175.1,215.1 168.9,208.8 166.3,202.5 172.6,197.5"/>
<polygon fill="#e8d998" points="175.6,189.0 187.6,185.0 192.7,195.0 195.2,205.1 185.6,208.1 173.6,199.0"/>
<polygon fill="#d3b974" points="195.2,227.6 205.2,222.6 215.2,230.1 220.2,240.1 212.7,250.1 205.2,252.7 200.2,242.6"/>
<polygon fill="#e6f1b1" points="205.2,205.1 215.2,202.5 220.2,207.6 227.7,212.6 230.2,222.6 235.2,230.1 239.0,240.1 230.2,242.6 227.7,237.6 225.2,225.1 220.2,217.6 210.2,220.1 208.9,210.1"/>
<polygon fill="#a3d496" points="230.2,212.6 245.3,210.1 255.3,215.1 259.0,223.8 265.3,225.1 260.3,230.1 256.5,237.6 250.3,240.1 242.8,241.4 239.0,240.1 235.2,230.1 230.2,222.6"/>
<polygon fill="#c6e2a3" points="239.0,240.1 242.8,241.4 250.3,240.1 256.5,237.6 260.3,230.1 265.3,225.1 267.8,230.1 270.3,247.6 265.3,248.9 255.3,251.4 245.3,255.2 240.3,252.7 239.0,245.1"/>
<polygon fill="#fcfbc0" points="220.2,247.6 227.7,242.6 237.8,242.6 239.0,252.7 230.2,255.2 225.2,260.2 219.0,257.7"/>
<polygon fill="#ebdd9e" points="230.2,255.2 239.0,252.7 241.5,260.2 237.8,265.2 230.2,265.2 227.7,260.2"/>
<polygon fill="#e6f1b1" points="240.3,252.7 245.3,255.2 255.3,251.4 265.3,248.9 270.3,247.6 272.8,252.7 280.3,248.9 290.4,246.4 295.4,250.1 304.1,257.7 301.6,240.1 320.4,238.9 325.9,246.4 327.9,254.7 320.4,262.7 319.2,272.7 325.4,280.2 320.4,290.2 315.4,298.0 295.4,298.0 292.9,280.2 282.8,277.7 270.3,280.2 260.3,277.7 252.8,272.7 245.3,275.2 237.8,272.7 230.2,265.2 237.8,265.2 241.5,260.2"/>
<polygon fill="#eef3b4" points="206,256 232,256 236,278 212,280"/>
<polygon fill="#fcfbc0" points="215.2,267.7 230.2,265.2 237.8,272.7 245.3,275.2 252.8,272.7 260.3,277.7 257.8,285.2 250.3,290.2 245.3,298.0 220.2,298.0 217.7,285.2 215.2,277.7"/>
<polygon fill="#ebdd9e" points="250.3,290.2 257.8,285.2 260.3,277.7 270.3,280.2 282.8,277.7 292.9,280.2 295.4,298.0 255.3,298.0"/>
<polygon fill="#a3d496" points="320.4,262.7 327.9,252.7 346.7,252.7 354.0,247.6 354.0,280.2 345.5,277.7 335.5,280.2 325.4,282.7 319.2,272.7"/>
<polygon fill="#48a36b" points="325.4,282.7 335.5,280.2 345.5,277.7 354.0,280.2 354.0,298.0 345.5,292.7 335.5,287.7 327.9,287.7"/>
<polygon fill="#8fca8c" points="327.9,287.7 335.5,287.7 345.5,292.7 354.0,298.0 320.4,298.0"/>
<polygon fill="#8fca8c" points="130.0,180.0 152.6,180.0 151.3,190.0 157.6,200.0 165.1,205.1 161.3,212.6 152.6,203.8 145.1,192.5"/>
<polygon fill="#c6e2a3" points="152.6,180.0 170.1,180.0 167.6,190.0 172.6,197.5 166.3,202.5 157.6,200.0 151.3,190.0"/>
<polygon fill="#fcfbc0" points="170.1,180.0 182.6,180.0 187.6,185.0 177.6,187.5 172.6,197.5 167.6,190.0"/>
<polygon fill="#2e9a5e" points="157.6,203.8 163.8,202.5 166.3,207.6 161.3,212.6 157.6,208.8"/>
<polygon fill="#a3d496" points="157.6,212.6 168.9,208.8 175.1,215.1 183.9,225.1 182.6,235.1 175.1,237.6 168.9,233.9 161.3,217.6"/>
<polygon fill="#c6e2a3" points="168.9,233.9 175.1,237.6 182.6,240.1 185.1,252.7 190.1,265.2 195.2,272.7 205.2,280.2 215.2,277.7 217.7,285.2 220.2,298.0 203.9,298.0 200.2,291.5 192.7,287.7 192.7,282.7 186.4,272.7 178.9,255.2 173.9,241.4"/>
<polygon fill="#c9c9c9" points="176.4,246.4 185.1,248.9 188.9,260.2 190.1,266.4 186.4,266.4 180.1,257.7"/>
<polygon fill="#a3d496" points="319.2,265.1 326.7,252.6 348.0,252.6 356.8,247.6 369.3,238.8 369.3,250.1 363.8,252.6 359.3,262.6 351.8,270.1 346.7,278.9 339.2,280.1 326.7,280.1 320.4,277.6"/>
<polygon fill="#6db97c" points="351.8,270.1 359.3,262.6 363.8,252.6 363.8,278.9 370.5,276.4 381.8,275.6 394.3,276.4 409.4,302.7 399.4,302.7 384.3,297.7 374.3,292.7 364.3,287.6 351.8,283.9 344.2,281.4 346.7,278.9"/>
<polygon fill="#3a9e62" points="326.7,281.4 339.2,281.4 351.8,283.9 364.3,287.6 374.3,292.7 384.3,297.7 399.4,302.7 409.4,302.7 416.9,316.5 411.9,325.2 409.4,332.7 396.8,336.5 384.3,334.0 370.5,330.2 376.8,320.2 371.8,312.7 359.3,305.2 349.2,300.2 341.7,292.7 334.2,288.9 325.4,287.6"/>
<polygon fill="#7fc384" points="325.4,287.6 334.2,288.9 341.7,292.7 349.2,300.2 359.3,305.2 371.8,312.7 376.8,320.2 370.5,330.2 359.3,327.7 346.7,327.7 336.7,324.0 330.5,320.2 329.2,312.7 321.7,302.7 320.4,295.2"/>
<polygon fill="#ebdd9e" points="321.7,320.2 330.5,320.2 336.7,324.0 346.7,327.7 359.3,327.7 370.5,330.2 384.3,334.0 396.8,336.5 409.4,332.7 409.4,338.0 316.7,338.0 324.2,331.5 319.2,325.2"/>
<polygon fill="#e6f1b1" points="271.6,251.3 279.1,248.8 287.9,246.3 294.1,252.6 300.4,257.6 299.6,240.0 320.4,240.5 325.4,248.8 326.7,255.1 319.2,265.1 320.4,277.6 326.7,281.4 324.2,287.6 314.2,290.1 306.7,286.4 295.4,288.9 292.9,276.4 287.9,273.9 281.6,281.4 275.3,280.1 267.8,278.9 249.0,270.1 234.0,270.1 234.0,255.1 249.0,253.8 259.1,247.6"/>
<polygon fill="#7fc384" points="266.6,220.0 297.9,220.0 309.2,230.0 301.1,241.3 300.4,257.6 294.1,252.6 287.9,246.3 279.1,248.8 271.6,251.3 266.6,243.8 264.1,230.0"/>
<polygon fill="#fcfbc0" points="295.4,288.9 306.7,286.4 314.2,290.1 324.2,287.6 320.4,295.2 321.7,302.7 329.2,312.7 330.5,320.2 321.7,320.2 319.2,325.2 324.2,331.5 316.7,338.0 301.6,338.0 291.6,320.2 284.1,315.2 294.1,307.7 291.6,295.2"/>
<polygon fill="#ebdd9e" points="257.8,286.4 267.8,278.9 275.3,280.1 281.6,281.4 287.9,273.9 292.9,276.4 295.4,288.9 291.6,295.2 294.1,307.7 284.1,315.2 271.6,307.7 266.6,300.2 259.1,295.2"/>
<polygon fill="#f5f3b4" points="234.0,270.1 249.0,270.1 257.8,286.4 259.1,295.2 249.0,295.2 234.0,300.2"/>
<polygon fill="#dcc988" points="234.0,307.2 249.0,304.7 259.1,304.7 266.6,307.2 271.6,310.2 284.1,315.2 291.6,320.2 301.6,338.0 234.0,338.0"/>
<polygon fill="#d3b974" points="246.5,320.2 259.1,312.7 271.6,317.7 274.1,327.7 266.6,335.2 254.0,332.7 246.5,327.7"/>
<polygon fill="#dcc988" points="225.1,312.6 235.2,305.1 247.7,300.0 255.2,297.5 262.7,302.5 272.7,305.1 282.8,311.3 285.3,317.6 295.3,332.6 302.8,340.1 315.3,338.9 330.4,343.9 340.4,350.1 350.4,355.2 360.4,357.7 373.0,360.2 394.0,367.7 394.0,385.2 380.5,385.2 378.0,398.0 335.4,398.0 332.9,372.7 322.8,377.7 310.3,390.2 300.3,387.7 282.8,387.7 272.7,380.2 260.2,370.2 255.2,362.7 252.7,355.2 245.2,352.7 242.7,350.1 245.2,340.1 237.7,333.9 240.2,327.6 232.7,325.1 225.1,320.1"/>
<polygon fill="#d3b974" points="245.2,320.1 255.2,310.1 267.7,312.6 277.8,322.6 290.3,335.1 302.8,345.1 305.3,355.2 300.3,365.2 310.3,375.2 300.3,380.2 285.3,385.2 272.7,377.7 260.2,365.2 260.2,350.1 247.7,345.1 245.2,335.1 240.2,327.6"/>
<polygon fill="#c9aa63" points="259.0,317.6 270.2,315.1 274.0,325.1 270.2,332.6 262.7,333.9 259.0,327.6"/>
<polygon fill="#c9aa63" points="285.3,335.1 292.8,337.6 295.3,345.1 289.0,346.4"/>
<polygon fill="#d3b974" points="357.9,357.7 373.0,360.2 383.0,367.7 380.5,380.2 373.0,385.2 360.4,382.7 355.4,370.2"/>
<polygon fill="#c6e2a3" points="185.1,280.0 220.1,280.0 217.6,290.0 210.1,292.5 212.6,302.5 217.6,312.6 225.1,320.1 232.7,325.1 237.7,333.9 245.2,340.1 242.7,350.1 245.2,352.7 252.7,355.2 255.2,362.7 247.7,366.4 252.7,372.7 247.7,375.2 245.2,379.0 233.9,368.9 227.6,360.2 222.6,353.9 223.9,347.6 226.4,338.9 220.1,327.6 212.6,315.1 205.1,305.1 201.3,293.8 192.6,287.0"/>
<polygon fill="#8fca8c" points="205.1,300.0 210.1,302.5 215.1,310.1 213.9,312.6 208.9,307.6"/>
<polygon fill="#fcfbc0" points="220.1,280.0 242.7,280.0 247.7,287.5 242.7,295.0 235.2,300.0 230.1,307.6 222.6,312.6 216.4,310.1 212.6,302.5 210.1,292.5 217.6,290.0"/>
<polygon fill="#ebdd9e" points="242.7,280.0 260.2,280.0 265.2,287.5 277.8,285.0 292.8,287.5 295.3,305.1 282.8,311.3 272.7,305.1 262.7,302.5 255.2,297.5 247.7,300.0 242.7,295.0 247.7,287.5"/>
<polygon fill="#fcfbc0" points="292.8,287.5 300.3,290.0 320.3,292.5 322.8,305.1 330.4,312.6 330.4,320.1 320.3,322.6 325.4,330.1 332.9,340.1 330.4,343.9 315.3,338.9 302.8,340.1 295.3,332.6 285.3,317.6 282.8,311.3 295.3,305.1"/>
<polygon fill="#ebdd9e" points="320.3,322.6 330.4,320.1 335.4,325.1 350.4,330.1 367.9,332.6 385.5,337.6 394.0,338.9 394.0,367.7 373.0,360.2 360.4,357.7 350.4,355.2 340.4,350.1 332.9,340.1 325.4,330.1"/>
<polygon fill="#e6f1b1" points="292.8,280.0 326.6,280.0 325.4,282.5 322.8,287.5 320.3,292.5 300.3,290.0 292.8,287.5"/>
<polygon fill="#c9c9c9" points="247.7,366.4 255.2,362.7 260.2,370.2 272.7,380.2 282.8,387.7 290.3,390.2 300.3,387.7 305.3,392.7 302.8,397.8 272.7,398.0 252.7,390.2 242.7,380.2 247.7,375.2 252.7,372.7"/>
<polygon fill="#fcfbc0" points="310.3,390.2 322.8,377.7 332.9,372.7 332.9,387.7 330.4,398.0 307.8,398.0"/>
<polygon fill="#c6e2a3" points="282.8,387.7 300.3,387.7 300.3,391.5 285.3,392.7"/>
<polygon fill="#c9c9c9" points="380.5,385.2 394.0,385.2 394.0,398.0 378.0,398.0"/>
<polygon fill="#dcc988" points="247.6,353.0 415.4,353.0 415.4,385.6 399.9,384.3 395.4,393.1 399.9,406.9 410.4,406.9 410.4,428.2 389.1,434.4 380.3,438.2 370.3,428.2 380.3,420.6 370.3,413.1 367.8,404.4 360.3,403.1 356.5,395.6 350.3,388.1 345.3,378.1 335.2,380.6 330.2,371.8 320.2,380.6 312.7,385.6 302.7,388.1 292.7,388.1 282.6,390.6 276.4,383.1 270.1,373.0 260.1,363.0"/>
<polygon fill="#e4d592" points="360.3,353.0 415.4,353.0 400.4,365.5 390.4,368.0 380.3,363.0 370.3,358.0"/>
<polygon fill="#d3b974" points="355.3,360.5 370.3,358.0 380.3,363.0 382.8,378.1 375.3,393.1 370.3,400.6 360.3,398.1 355.3,385.6 352.8,373.0"/>
<polygon fill="#c6e2a3" points="220.0,353.0 247.6,353.0 252.6,360.5 247.6,368.0 246.3,373.0 235.0,375.5 225.0,365.5"/>
<polygon fill="#c9c9c9" points="243.8,375.5 247.6,368.0 252.6,365.5 260.1,371.8 270.1,376.8 276.4,383.1 282.6,390.6 281.4,394.3 295.2,394.3 305.2,398.1 320.2,399.3 322.7,406.9 325.2,411.9 320.2,415.6 330.2,426.9 344.0,434.4 350.3,428.2 355.3,418.1 352.8,415.6 345.3,420.6 337.8,423.1 330.2,420.6 320.2,420.6 302.7,418.1 285.1,410.6 270.1,401.9 251.3,390.6 243.8,380.6"/>
<polygon fill="#c6e2a3" points="282.6,390.6 292.7,388.1 302.7,389.3 300.2,394.3 285.1,394.3"/>
<polygon fill="#faf7b6" points="305.2,390.6 312.7,385.6 320.2,380.6 330.2,371.8 332.7,380.6 327.7,390.6 322.7,398.1 310.2,399.3 305.2,394.3"/>
<polygon fill="#e4d592" points="327.7,390.6 335.2,380.6 345.3,378.1 350.3,388.1 356.5,395.6 355.3,401.9 345.3,401.9 335.2,404.4 327.7,404.4 322.7,398.1"/>
<polygon fill="#b4db9d" points="322.7,406.9 327.7,404.4 335.2,404.4 345.3,401.9 355.3,401.9 359.0,404.4 356.5,414.4 349.0,415.6 345.3,420.6 337.8,423.1 330.2,420.6 325.2,414.4"/>
<polygon fill="#f3ecab" points="359.0,404.4 367.8,404.4 370.3,413.1 379.1,419.4 375.3,425.7 370.3,423.1 366.6,428.2 360.3,430.7 354.0,433.2 356.5,425.7 355.3,418.1 349.0,419.4 349.0,415.6 356.5,414.4"/>
<polygon fill="#c9c9c9" points="330.2,420.6 337.8,423.1 345.3,420.6 349.0,419.4 355.3,418.1 356.5,425.7 354.0,433.2 354.0,436.9 360.3,435.7 367.8,439.4 365.3,445.7 356.5,449.5 346.5,443.2 340.3,435.7"/>
<polygon fill="#7fc384" points="346.5,439.4 352.8,438.2 356.5,443.2 352.8,447.0 346.5,443.2"/>
<polygon fill="#ffffbf" points="356.5,449.5 365.3,445.7 370.3,439.4 380.3,443.2 385.4,439.4 395.4,439.4 395.4,463.2 360.3,463.2"/>
<polygon fill="#c9c9c9" points="380.3,385.6 395.4,384.3 400.4,393.1 405.4,406.9 395.4,406.9 390.4,403.1 385.4,400.6 379.1,398.1 382.8,393.1"/>
</g>
<polygon points="241.7,14.7 242.6,13.1 249.3,13.4 251.8,11.7 256.8,14.2 261.9,16.7 266.1,20.1 271.1,24.3 274.5,30.2 275.3,34.4 280.3,36 286.2,40.2 291.2,42.8 293.8,47.8 294.6,52.8 298.8,54.5 303,55.3 303.8,61.2 302.3,65.4 307.2,69.6 313.9,69.8 321.4,70.8 329,68.4 333.2,67.4 336.7,62.9 341.6,64.6 345.8,68.8 350.8,67.9 355.8,64.6 362.6,67.1 369.3,71.3 374.3,73 378.7,77.6 362,103.6 367.3,105.2 371.5,104.4 374.9,107.8 379.1,112.8 380.7,115.3 380.4,117.8 377.4,116.1 374,115 370.7,112 366.5,113.3 361.4,112 358.9,113.6 357.2,117.8 350.5,118.7 343.8,120 337.1,121.2 332.1,123.7 327,127 320.3,130.4 315.3,133.8 310.3,136.3 308.3,138.8 307.8,143.8 307,148.5 302.1,155.1 300.1,160.1 303,166 302.5,170.2 297.1,171.9 291.2,175.2 287.9,179.4 288.7,183.6 287.9,188.7 282.9,190.3 282.3,194.5 286.2,199.6 289.1,201.2 287.9,204.6 291.2,208.8 292.9,213.8 297.6,218.4 298.5,221.7 303.5,225.9 306.8,231 306,235.2 301,241 313.6,241 320.3,242.2 324.5,245.2 325.3,249.4 327.3,251.9 327,255 347.1,255 350.5,252.8 353.8,250.3 358.9,246.9 363.9,242.7 367.2,241 366.9,245.2 365.6,247.8 365.9,251.1 363.9,252.8 363.9,278.8 367.2,279.1 370.6,281.3 376.5,279.6 381.5,277.6 385.7,278.5 389.9,278.5 396.6,288.9 403,300 412.6,316.7 410,322.5 407.5,327.6 407.9,337.3 406.5,340 403.2,345 406.5,349.2 404.9,351.7 408.2,357.6 404.9,360.1 402.3,365.2 396.5,372.7 395.6,377.8 400.7,384 397.3,387.8 394.8,392.9 397.3,400.4 399.8,407.1 405.7,408 408.7,411.3 404.9,413.8 404,418.9 399.2,424.4 389.2,434.5 392.4,439.5 384.9,444.5 385.4,452 380.4,457.8 370.4,459.5 356.6,449.5 346.6,443.2 344.1,434.5 330.3,426.9 320.3,420.7 302.7,413.2 285.2,405.6 270.1,396.9 251.3,385.6 246.2,378.5 240.3,373.8 233.6,368.8 229.4,362.9 225.6,357.9 225.2,352 222.7,350 227.2,347.8 227.8,340.3 224.4,334.4 220.2,328.5 215.2,320.1 211.8,312.6 204.3,305.9 204.5,303 201.9,293.8 192.2,287.1 191.9,280.4 187.7,270.3 182.7,261.1 177.6,252.7 174.3,240.9 168.4,232.6 165.2,224.6 161,215.4 155.2,207 146.8,197.8 142.6,186.8 136.7,178.5 130,172.6 121.2,168 111.1,161.3 106.9,157.1 107.7,153.8 113.6,151.2 112.8,147 108.6,142 105.2,137.8 107.7,134 104.4,130.3 101.9,124.4 103.6,115.2 108.6,110.1 114.5,102.6 121.2,96.7 127,94.2 129.6,95.9 130.4,101.7 131.2,105.9 127,107.6 123.7,110.1 122.8,114.3 125.4,116.8 124.5,119.4 128.7,117.7 131.2,115.2 136.3,117.7 140.5,120.2 144.7,119.9 148,124.4 150.5,129.4 154.7,131.9 158.4,133.3 160.6,129.4 163.1,125.2 167.3,122.7 168.1,116 170.7,108.5 172.3,102.6 174.9,94.2 177.4,93.4 178.2,95.9 179.6,92.5 182.4,90 187.7,85 200.3,80 217.6,73.2 230,63.7 244.3,47.8 246.8,34.4 251.8,34.4 250.5,25.1 246.8,20.9 244.3,15.9" fill="none" stroke="#000" stroke-width="1.7" stroke-linejoin="round"/><circle cx="223.6" cy="350" r="1.7" fill="#000"/>
</g>

<!-- LEFT LEGEND -->
<rect x="54.6" y="245" width="36.2" height="213.6" fill="url(#gL)"/>
<g stroke="#777" stroke-width="1">
<line x1="90.8" x2="94" y1="245.3" y2="245.3"/><line x1="90.8" x2="94" y1="298" y2="298"/><line x1="90.8" x2="94" y1="351.6" y2="351.6"/><line x1="90.8" x2="94" y1="404.6" y2="404.6"/><line x1="90.8" x2="94" y1="458.3" y2="458.3"/>
</g>
<text class="lab" x="95.6" y="251.6">0.16</text>
<text class="lab" x="95.6" y="464">0.03</text>
<text class="ttl" transform="translate(27.5,351) rotate(-90)">Mortality Rate</text>
<text class="ttl" transform="translate(49,350.5) rotate(-90)">(per 1000)</text>

<!-- RIGHT LEGEND -->
<rect x="518" y="245" width="36" height="213.4" fill="url(#gR)"/>
<g stroke="#777" stroke-width="1">
<line x1="554" x2="557" y1="245.3" y2="245.3"/><line x1="554" x2="557" y1="298" y2="298"/><line x1="554" x2="557" y1="351.6" y2="351.6"/><line x1="554" x2="557" y1="404.4" y2="404.4"/><line x1="554" x2="557" y1="458.1" y2="458.1"/>
</g>
<text class="lab" x="558.6" y="251.5">45.2</text>
<text class="lab" x="558.6" y="463.6">5.0</text>
<text class="ttl" transform="translate(507.3,351.3) rotate(-90)">ORS Coverage (%)</text>
</svg>
</body></html>
